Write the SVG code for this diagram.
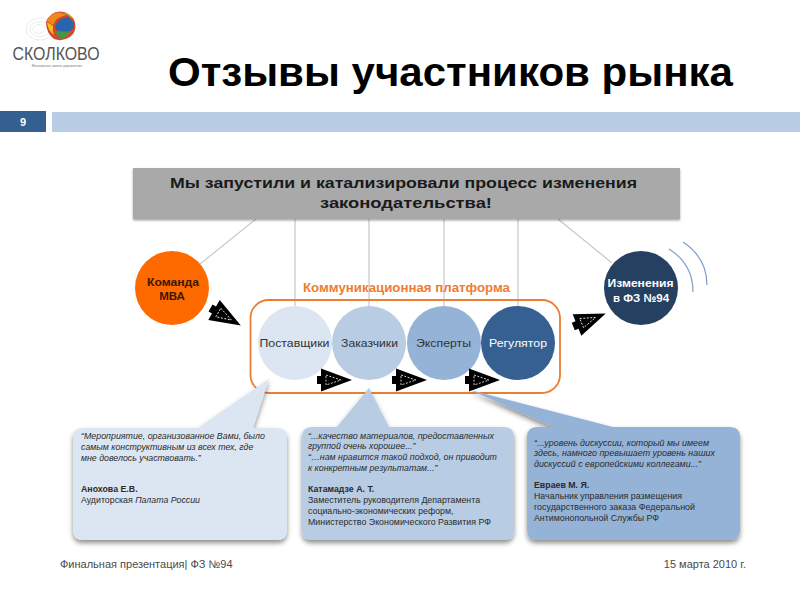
<svg xmlns="http://www.w3.org/2000/svg" width="800" height="600" viewBox="0 0 800 600">
<style>
text{font-family:"Liberation Sans",Arial,sans-serif}
.cn{font-size:11.5px;text-anchor:middle}
.b{font-weight:bold}
.q{font-size:8.8px;fill:#2b2b2b}
.i{font-style:italic}
.ln{stroke:#c8c8c8;stroke-width:1.2;fill:none}
.arc{stroke:#7f9fc9;stroke-width:1.2;fill:none}
.foot{font-size:11px;fill:#4a4a4a}
</style>
<defs>
<filter id="sh" x="-10%" y="-10%" width="120%" height="125%"><feDropShadow dx="0" dy="3" stdDeviation="2.5" flood-color="#000" flood-opacity="0.45"/></filter>
<filter id="sh2" x="-5%" y="-10%" width="110%" height="125%"><feDropShadow dx="0" dy="1.5" stdDeviation="1.2" flood-color="#000" flood-opacity="0.35"/></filter>
<g id="arr">
<path d="M0 -11.500 L31 0 L0 11.500 L0 4 L-4 4 L-4 -4 L0 -4 Z" fill="#000"/>
<path d="M5 -5 L20 0 L5 5 Z" fill="none" stroke="#fff" stroke-width="0.8" stroke-dasharray="2 1.500"/>
</g>
</defs>
<rect width="800" height="600" fill="#fff"/>
<g id="logo">
<g fill="none" stroke="#e6e6e6" stroke-width="0.8">
<ellipse cx="40" cy="29" rx="14" ry="11"/><ellipse cx="40" cy="29" rx="10" ry="7.500"/><ellipse cx="39" cy="29" rx="6" ry="4.500"/>
</g>
<path d="M46 22 Q50 12 60 11.500 Q71 12 75 22 Q77 32 70 37 Q62 42 54 39 Q46 33 46 22Z" fill="#d9452b"/>
<path d="M47 21 Q50 14 58 12.500 Q64 13 66 15 Q56 17 53 25 Z" fill="#ef8a1f"/>
<path d="M47 22 L53 26 Q52 31 54 35 Q48 31 47 22Z" fill="#f2c21c"/>
<path d="M55 26 Q58 18 68 17 Q74 21 74 27 Q72 30 70 31 Q62 32 56 30 Z" fill="#2765ae"/>
<path d="M55 31 Q62 33 70 32 Q68 37 61 39 Q57 36 55 31Z" fill="#3d9a48"/>
<path d="M63 12.500 Q70 13 73 19 L69 16 Z" fill="#a7b73a"/>
<text x="56" y="60" font-size="17.500" fill="#555" text-anchor="middle" textLength="87" lengthAdjust="spacingAndGlyphs">СКОЛКОВО</text>
<text x="57" y="66.500" font-size="3.500" fill="#777" text-anchor="middle">Московская школа управления</text>
</g>
<text id="title" x="168" y="86" font-size="40" class="b" fill="#000" textLength="565" lengthAdjust="spacingAndGlyphs">Отзывы участников рынка</text>
<g id="header-bar">
<rect x="0" y="111" width="46" height="21" fill="#335f91"/>
<text x="23" y="126" font-size="11" class="b" fill="#fff" text-anchor="middle">9</text>
<rect x="52" y="112" width="748" height="20" fill="#b8cce4"/>
</g>
<g id="connectors">
<path class="ln" d="M256 219L200 264M295 219V306M369 219V306M444 219V306M518 219V306M558 219L612 263"/>
<path class="arc" d="M669 249Q693 264 693 292M683 242Q707 258 707 285"/>
</g>
<g id="banner">
<rect x="133" y="168" width="547" height="51" fill="#a9a9a9" filter="url(#sh2)"/>
<text x="170" y="188" font-size="15.500" class="b" fill="#1a1a1a" textLength="467" lengthAdjust="spacingAndGlyphs">Мы запустили и катализировали процесс изменения</text>
<text x="320" y="208" font-size="15.500" class="b" fill="#1a1a1a" textLength="172" lengthAdjust="spacingAndGlyphs">законодательства!</text>
</g>
<g id="team">
<circle cx="172" cy="288" r="37" fill="#ff6a00"/>
<text x="147" y="286" class="cn b" fill="#3a1800" style="text-anchor:start" textLength="52" lengthAdjust="spacingAndGlyphs">Команда</text>
<text x="172" y="300" class="cn b" fill="#3a1800">МВА</text>
</g>
<g id="platform">
<text x="303" y="292" font-size="13" class="b" fill="#ed7d31" textLength="207" lengthAdjust="spacingAndGlyphs">Коммуникационная платформа</text>
<rect x="250.500" y="300" width="309.500" height="93" rx="18" fill="none" stroke="#ed7d31" stroke-width="1.800"/>
</g>
<g id="suppliers"><circle cx="295" cy="343" r="37" fill="#dce6f2"/><text x="259.500" y="347" class="cn" fill="#333" style="text-anchor:start" textLength="70" lengthAdjust="spacingAndGlyphs">Поставщики</text></g>
<g id="customers"><circle cx="369" cy="343" r="37" fill="#b8cce4"/><text x="341" y="347" class="cn" fill="#333" style="text-anchor:start" textLength="57" lengthAdjust="spacingAndGlyphs">Заказчики</text></g>
<g id="experts"><circle cx="444" cy="343" r="37" fill="#95b3d7"/><text x="416" y="347" class="cn" fill="#333" style="text-anchor:start" textLength="55" lengthAdjust="spacingAndGlyphs">Эксперты</text></g>
<g id="regulator"><circle cx="518" cy="343" r="37" fill="#366092"/><text x="489" y="347" class="cn" fill="#fff" style="text-anchor:start" textLength="58" lengthAdjust="spacingAndGlyphs">Регулятор</text></g>
<g id="changes">
<circle cx="641" cy="288" r="37" fill="#254061"/>
<text x="607.500" y="287" class="cn b" fill="#fff" style="text-anchor:start" textLength="66" lengthAdjust="spacingAndGlyphs">Изменения</text>
<text x="641" y="302" class="cn b" fill="#fff">в ФЗ №94</text>
</g>
<g id="arrows">
<use href="#arr" transform="translate(214 310) rotate(30)"/>
<use href="#arr" transform="translate(321 380)"/>
<use href="#arr" transform="translate(396 380)"/>
<use href="#arr" transform="translate(469 380)"/>
<use href="#arr" transform="translate(577 325) rotate(-22)"/>
</g>
<g id="quote1">
<path d="M269 379L253 428H277Q287 428 287 438V530Q287 540 277 540H83Q73 540 73 530V438Q73 428 83 428H198Z" fill="#dce6f2" filter="url(#sh)"/>
<text class="q i" x="81" y="439" textLength="184" lengthAdjust="spacingAndGlyphs">“Мероприятие, организованное Вами, было</text>
<text class="q i" x="81" y="450">самым конструктивным из всех тех, где</text>
<text class="q i" x="81" y="461">мне довелось участвовать.”</text>
<text class="q b" x="81" y="492">Анохова Е.В.</text>
<text class="q" x="81" y="503">Аудиторская <tspan class="i">Палата России</tspan></text>
</g>
<g id="quote2">
<path d="M369 388L389 427H504Q514 427 514 437V530Q514 540 504 540H312Q302 540 302 530V437Q302 427 312 427H337Z" fill="#b8cce4" filter="url(#sh)"/>
<text class="q i" x="308" y="439" textLength="186" lengthAdjust="spacingAndGlyphs">“...качество материалов, предоставленных</text>
<text class="q i" x="308" y="449">группой очень хорошее...”</text>
<text class="q i" x="308" y="460" textLength="189" lengthAdjust="spacingAndGlyphs">“…нам нравится такой подход, он приводит</text>
<text class="q i" x="308" y="471">к конкретным результатам...”</text>
<text class="q b" x="308" y="492">Катамадзе А. Т.</text>
<text class="q" x="308" y="503">Заместитель руководителя Департамента</text>
<text class="q" x="308" y="514">социально-экономических реформ,</text>
<text class="q" x="308" y="525" textLength="183" lengthAdjust="spacingAndGlyphs">Министерство Экономического Развития РФ</text>
</g>
<g id="quote3">
<path d="M470 390L613 427H730Q740 427 740 437V530Q740 540 730 540H537Q527 540 527 530V437Q527 427 537 427H553Z" fill="#95b3d7" filter="url(#sh)"/>
<text class="q i" x="534" y="446" textLength="175" lengthAdjust="spacingAndGlyphs">“...уровень дискуссии, который мы имеем</text>
<text class="q i" x="534" y="456" textLength="181" lengthAdjust="spacingAndGlyphs">здесь, намного превышает уровень наших</text>
<text class="q i" x="534" y="467" textLength="167" lengthAdjust="spacingAndGlyphs">дискуссий с европейскими коллегами...”</text>
<text class="q b" x="534" y="488">Евраев М. Я.</text>
<text class="q" x="534" y="499" textLength="148" lengthAdjust="spacingAndGlyphs">Начальник управления размещения</text>
<text class="q" x="534" y="510" textLength="161" lengthAdjust="spacingAndGlyphs">государственного заказа Федеральной</text>
<text class="q" x="534" y="521" textLength="125" lengthAdjust="spacingAndGlyphs">Антимонопольной Службы РФ</text>
</g>
<g id="footer">
<text class="foot" x="60" y="568">Финальная презентация| ФЗ №94</text>
<text class="foot" x="746" y="568" text-anchor="end">15 марта 2010 г.</text>
</g>
</svg>
